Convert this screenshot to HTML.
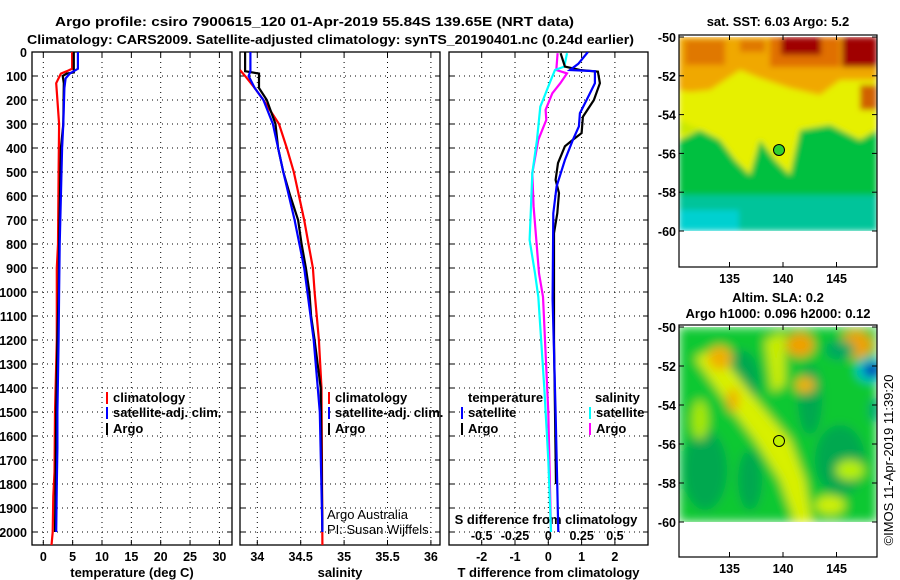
<!DOCTYPE html>
<html><head><meta charset="utf-8"><style>
body{margin:0;background:#fff;}
svg{display:block;font-family:"Liberation Sans",sans-serif;}
.t{font-weight:bold;font-size:12.5px;}
.lab{font-weight:bold;font-size:13px;}
.nrm{font-weight:normal;font-size:13px;}
</style></head><body>
<svg id="chart" width="900" height="580" viewBox="0 0 900 580">
<defs>
<filter id="blur" x="-10%" y="-10%" width="120%" height="120%"><feGaussianBlur stdDeviation="3"/></filter>
<filter id="blur2" x="-10%" y="-10%" width="120%" height="120%"><feGaussianBlur stdDeviation="5"/></filter>
<clipPath id="cm1"><rect x="679" y="37" width="198" height="194"/></clipPath>
<clipPath id="cm2"><rect x="679" y="327" width="198" height="195"/></clipPath>
<clipPath id="cp1"><rect x="32" y="52" width="200" height="493"/></clipPath>
<clipPath id="cp2"><rect x="240" y="52" width="200" height="493"/></clipPath>
<clipPath id="cp3"><rect x="449" y="52" width="199" height="493"/></clipPath>
</defs>
<text class="lab" x="55" y="26" textLength="519" lengthAdjust="spacingAndGlyphs">Argo profile: csiro 7900615_120 01-Apr-2019 55.84S 139.65E (NRT data)</text>
<text class="lab" x="27" y="44" textLength="607" lengthAdjust="spacingAndGlyphs">Climatology: CARS2009. Satellite-adjusted climatology: synTS_20190401.nc (0.24d earlier)</text>

<!-- top map -->
<g>
<text class="lab" x="778" y="26" text-anchor="middle">sat. SST: 6.03 Argo: 5.2</text>
<g clip-path="url(#cm1)">
<g filter="url(#blur)">
<rect x="679" y="37" width="198" height="194" fill="#00c040"/>
<rect x="679" y="195" width="198" height="36" fill="#00c49a"/>
<rect x="679" y="210" width="60" height="21" fill="#00d0d0"/>
<path d="M679 60 L877 60 L877 130 L860 140 L830 125 L800 130 L790 175 L775 160 L760 140 L750 175 L735 160 L720 140 L700 130 L679 140 Z" fill="#e6f000"/>
<path d="M679 120 L700 130 L679 135 Z" fill="#c8e800"/>
<path d="M679 37 L877 37 L877 80 L840 80 L820 95 L790 88 L760 78 L740 70 L710 90 L690 92 L679 90 Z" fill="#f0a800"/>
<rect x="685" y="40" width="40" height="25" fill="#e07800"/>
<rect x="740" y="40" width="25" height="12" fill="#e07800"/>
<rect x="860" y="85" width="17" height="25" fill="#d06000"/>
<rect x="770" y="37" width="70" height="30" fill="#e07000"/>
<rect x="781" y="37" width="40" height="18" fill="#a00000"/>
<rect x="842" y="37" width="35" height="30" fill="#a00000"/>
</g></g>
<rect x="679" y="35" width="198" height="232" fill="none" stroke="#000" stroke-width="1.2"/>
<circle cx="779" cy="150" r="5.5" fill="#30d030" stroke="#000"/>
</g>

<!-- bottom map -->
<g>
<text class="lab" x="778" y="302" text-anchor="middle">Altim. SLA: 0.2</text>
<text class="lab" x="778" y="318" text-anchor="middle">Argo h1000: 0.096 h2000: 0.12</text>
<g clip-path="url(#cm2)">
<g filter="url(#blur2)">
<rect x="679" y="327" width="198" height="195" fill="#10c830"/>
<ellipse cx="740" cy="380" rx="20" ry="30" fill="#00a850"/>
<ellipse cx="705" cy="470" rx="22" ry="40" fill="#00a850"/>
<ellipse cx="840" cy="460" rx="25" ry="35" fill="#00a850"/>
<ellipse cx="810" cy="400" rx="12" ry="35" fill="#00a850"/>
<ellipse cx="750" cy="480" rx="12" ry="30" fill="#00a850"/>
<path d="M695 358 L715 348 L760 405 L790 440 L805 480 L812 522 L795 522 L780 480 L755 440 L725 400 Z" fill="#d8f000"/>
<path d="M765 340 L785 332 L785 385 L772 392 Z" fill="#c8ec00"/>
<ellipse cx="700" cy="420" rx="8" ry="20" fill="#a8e800"/>
<ellipse cx="830" cy="505" rx="15" ry="9" fill="#d0f000"/>
<ellipse cx="850" cy="470" rx="14" ry="10" fill="#b8f000"/>
<ellipse cx="720" cy="358" rx="12" ry="12" fill="#f0b000"/>
<ellipse cx="733" cy="400" rx="6" ry="12" fill="#f0b000"/>
<ellipse cx="800" cy="345" rx="14" ry="12" fill="#f0a000"/>
<ellipse cx="805" cy="385" rx="10" ry="8" fill="#f0b000"/>
<ellipse cx="856" cy="345" rx="16" ry="14" fill="#f0a000"/>
<ellipse cx="840" cy="350" rx="15" ry="10" fill="#00a860"/>
<ellipse cx="870" cy="370" rx="14" ry="12" fill="#00c8d0"/>
<ellipse cx="872" cy="370" rx="9" ry="7" fill="#0010b0"/>
<ellipse cx="875" cy="410" rx="6" ry="12" fill="#00a870"/>
</g></g>
<rect x="679" y="325" width="198" height="232" fill="none" stroke="#000" stroke-width="1.2"/>
<circle cx="779" cy="441" r="5.5" fill="#c0f000" stroke="#000"/>
</g>
<text x="893" y="460" font-size="13" text-anchor="middle" transform="rotate(-90 893 460)">©IMOS 11-Apr-2019 11:39:20</text>

<g id="dyn"></g>
</svg>
<script>
// ---- data ----
const depthTicks = [0,100,200,300,400,500,600,700,800,900,1000,1100,1200,1300,1400,1500,1600,1700,1800,1900,2000];
const tempTicks = [0,5,10,15,20,25,30];
const salTicks = [34,34.5,35,35.5,36];
const tdiffTicks = [-2,-1,0,1,2];
const sdiffTicks = [-0.5,-0.25,0,0.25,0.5];
const latTicks = [-50,-52,-54,-56,-58,-60];
const lonTicks = [135,140,145];

const tClimDepth = [0,70,80,90,100,130,200,300,500,800,900,1200,1500,1750,1850,2000,2055];
const tClimVal   = [4.9,4.9,4.0,3.0,2.8,2.2,2.4,2.7,2.6,2.5,2.3,2.3,2.0,1.9,1.7,1.6,1.4];
const tSatDepth  = [0,70,90,110,150,300,400,600,800,1000,1200,1500,1650,1800,2000];
const tSatVal    = [5.9,5.9,4.5,3.8,3.6,3.4,3.2,3.0,2.8,2.7,2.6,2.4,2.4,2.3,2.2];
const tArgoDepth = [0,85,90,100,130,300,400,600,800,1000,1200,1500,1800,2000];
const tArgoVal   = [5.2,5.2,4.0,3.3,3.5,3.4,3.0,2.85,2.7,2.6,2.4,2.2,2.1,2.0];

const sClimDepth = [75,100,150,200,300,400,500,600,700,800,900,1000,1200,1400,2055];
const sClimVal   = [33.8,33.86,33.97,34.07,34.25,34.34,34.42,34.48,34.54,34.59,34.64,34.66,34.71,34.74,34.75];
const sSatDepth  = [0,80,100,150,200,300,500,700,900,1200,1500,2000];
const sSatVal    = [33.92,33.92,33.9,33.97,34.07,34.18,34.30,34.43,34.54,34.65,34.72,34.75];
const sArgoDepth = [0,80,90,150,200,300,400,500,600,700,800,900,1000,1100,1200,1400,2000];
const sArgoVal   = [33.86,33.86,34.02,34.02,34.11,34.21,34.24,34.30,34.38,34.47,34.51,34.56,34.60,34.62,34.66,34.73,34.75];

const dtSatDepth  = [0,49,75,80,130,200,255,310,366,450,560,672,1030,1500,2000];
const dtSatVal    = [1.19,0.9,0.65,1.4,1.4,1.15,0.95,0.92,0.74,0.5,0.25,0.15,0.13,0.22,0.3];
const dtArgoDepth = [5,61,75,82,130,200,270,338,366,393,463,533,588,672,755,1200,1800];
const dtArgoVal   = [0.37,0.5,0.95,1.49,1.55,1.37,1.04,1.0,0.74,0.5,0.29,0.22,0.32,0.27,0.17,0.17,0.23];
const dsSatDepth  = [5,61,75,130,200,228,366,505,644,783,922,1020,1400,1700,2000];
const dsSatVal    = [0.14,0.12,0.05,0.01,-0.04,-0.06,-0.085,-0.12,-0.13,-0.14,-0.1,-0.075,-0.03,0,0.02];
const dsArgoDepth = [5,75,89,130,172,241,283,366,505,644,783,922,1020,1500,2000];
const dsArgoVal   = [0.07,0.06,0.14,0.09,0.03,-0.02,-0.015,-0.075,-0.12,-0.11,-0.09,-0.07,-0.04,0,0.02];

// ---- axes ----
const yD = d => 52 + d*0.24;
const xT = t => 43.3 + t*5.87;
const xS = s => 257.3 + (s-34)*86.8;
const xDT = v => 548.3 + v*33.3;
const xDS = v => 548.3 + v*133.3;
const yLat = l => 37 + (-50-l)*19.4;
const yLat2 = l => 327 + (-50-l)*19.5;
const xLon = l => 783 + (l-140)*10.7;

const NS='http://www.w3.org/2000/svg';
const root=document.getElementById('dyn');
function mk(tag,attrs,parent){const e=document.createElementNS(NS,tag);for(const k in attrs)e.setAttribute(k,attrs[k]);(parent||root).appendChild(e);return e;}
function txt(x,y,s,cls,anchor,parent){const e=mk('text',{x:x,y:y,class:cls||'t','text-anchor':anchor||'middle'},parent);e.textContent=s;return e;}

const panels=[
 {x0:32,x1:232,xs:xT,ticks:tempTicks,title:'temperature (deg C)',clip:'cp1',name:'temperature-panel'},
 {x0:240,x1:440,xs:xS,ticks:salTicks,title:'salinity',clip:'cp2',name:'salinity-panel'},
 {x0:449,x1:648,xs:xDT,ticks:tdiffTicks,title:'T difference from climatology',clip:'cp3',name:'difference-panel'}];
panels.forEach((p,i)=>{
  const g=mk('g',{});
  
  
  depthTicks.forEach(d=>{ if(d>0) mk('line',{x1:p.x0,x2:p.x1,y1:yD(d),y2:yD(d),stroke:'#000','stroke-width':1,'stroke-dasharray':'1 4'},g);
    mk('line',{x1:p.x0,x2:p.x0+5,y1:yD(d),y2:yD(d),stroke:'#000'},g);
    mk('line',{x1:p.x1-5,x2:p.x1,y1:yD(d),y2:yD(d),stroke:'#000'},g);});
  p.ticks.forEach(t=>{const x=p.xs(t);
    mk('line',{x1:x,x2:x,y1:52,y2:545,stroke:'#000','stroke-dasharray':'1 4'},g);
    mk('line',{x1:x,x2:x,y1:52,y2:57,stroke:'#000'},g);
    mk('line',{x1:x,x2:x,y1:540,y2:545,stroke:'#000'},g);
    const lt=txt(x,561,String(t),'t','middle',g);
    
    });
  mk('rect',{x:p.x0,y:52,width:p.x1-p.x0,height:493,fill:'none',stroke:'#000','stroke-width':1.3},g);
  const tt=txt((p.x0+p.x1)/2,577,p.title,'lab','middle',g);
  
  
});
depthTicks.forEach(d=>{const e=txt(27,yD(d)+5,String(d),'t','end');
  
  });
sdiffTicks.forEach(v=>{const e=txt(xDS(v),540,String(v),'t','middle');
  
  });
{const e=txt(546,524,'S difference from climatology','lab','middle');

}

function line(depths,vals,xs,color,clip,name){
  const pts=depths.map((d,i)=>xs(vals[i]).toFixed(1)+','+yD(d).toFixed(1)).join(' ');
  const e=mk('polyline',{points:pts,fill:'none',stroke:color,'stroke-width':2.2,'clip-path':'url(#'+clip+')'});
  
  
}
line(tClimDepth,tClimVal,xT,'#ff0000','cp1','temp-climatology-line');
line(tArgoDepth,tArgoVal,xT,'#000000','cp1','temp-argo-line');
line(tSatDepth,tSatVal,xT,'#0000ff','cp1','temp-satellite-line');
line(sClimDepth,sClimVal,xS,'#ff0000','cp2','sal-climatology-line');
line(sArgoDepth,sArgoVal,xS,'#000000','cp2','sal-argo-line');
line(sSatDepth,sSatVal,xS,'#0000ff','cp2','sal-satellite-line');
line(dsArgoDepth,dsArgoVal,xDS,'#ff00ff','cp3','s-diff-argo-line');
line(dsSatDepth,dsSatVal,xDS,'#00ffff','cp3','s-diff-satellite-line');
line(dtArgoDepth,dtArgoVal,xDT,'#000000','cp3','t-diff-argo-line');
line(dtSatDepth,dtSatVal,xDT,'#0000ff','cp3','t-diff-satellite-line');

function legend(x,y,color,label){
  const g=mk('g',{});
  
  
  if(color) mk('rect',{x:x,y:y-10,width:2,height:12,fill:color},g);
  txt(x+7,y,label,'lab','start',g);
}
legend(106,402,'#ff0000','climatology');legend(106,417,'#0000ff','satellite-adj. clim.');legend(106,433,'#000000','Argo');
legend(328,402,'#ff0000','climatology');legend(328,417,'#0000ff','satellite-adj. clim.');legend(328,433,'#000000','Argo');
txt(468,402,'temperature','lab','start');
legend(461,417,'#0000ff','satellite');legend(461,433,'#000000','Argo');
txt(595,402,'salinity','lab','start');
legend(589,417,'#00ffff','satellite');legend(589,433,'#ff00ff','Argo');
{const a=txt(327,519,'Argo Australia','nrm','start');


const b=txt(327,534,'PI: Susan Wijffels','nrm','start');

}

// map axes
[[yLat,267,283],[yLat2,557,573]].forEach(([yl,yb,ylab])=>{
  latTicks.forEach(l=>{const y=yl(l);
    mk('line',{x1:679,x2:684,y1:y,y2:y,stroke:'#000'});
    mk('line',{x1:872,x2:877,y1:y,y2:y,stroke:'#000'});
    const e=txt(676,y+5,String(l),'t','end');
    
    });
  lonTicks.forEach(l=>{const x=xLon(l);
    mk('line',{x1:x,x2:x,y1:yb-5,y2:yb,stroke:'#000'});
    mk('line',{x1:x,x2:x,y1:yb-232,y2:yb-227,stroke:'#000'});
    const e=txt(x,ylab,String(l),'t','middle');
    
    });
});
</script>
</body></html>
